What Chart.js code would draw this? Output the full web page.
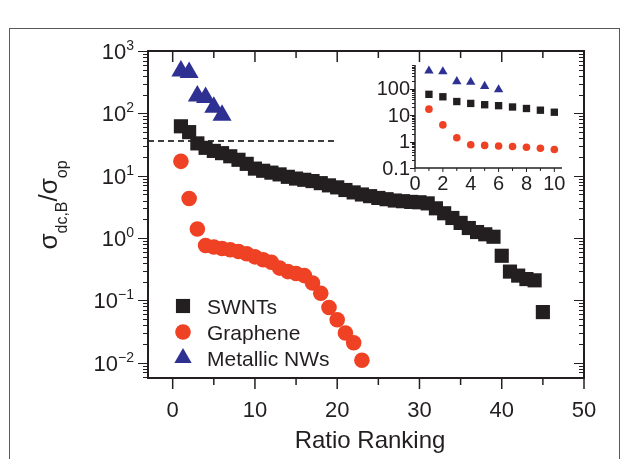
<!DOCTYPE html>
<html>
<head>
<meta charset="utf-8">
<script src="https://cdn.jsdelivr.net/npm/chart.js@4.4.1/dist/chart.umd.min.js"></script>
<style>
  html, body { margin: 0; padding: 0; background: #fff; }
  #wrap { position: relative; width: 628px; height: 459px; }
  #wrap canvas { position: absolute; left: 0; top: 0; }
</style>
</head>
<body>
<div id="wrap">
  <canvas id="main" width="628" height="459"></canvas>
  <canvas id="inset" width="628" height="459"></canvas>
</div>
<script>
// ---- data ----
const swntRank = [1, 2, 3, 4, 5, 6, 7, 8, 9, 10, 11, 12, 13, 14, 15, 16, 17, 18, 19, 20, 21, 22, 23,
                  24, 25, 26, 27, 28, 29, 30, 31, 32, 33, 34, 35, 36, 37, 38, 39, 40, 41, 42, 43, 44, 45];
const swntRatio = [62, 50, 33, 28, 25, 23, 20.5, 18, 15.5, 13, 12, 11.2, 10.5, 9.6, 9.0, 8.6, 8.2, 7.6, 7.0, 6.5,
                   5.9, 5.4, 5.0, 4.7, 4.4, 4.2, 4.0, 3.9, 3.8, 3.75, 3.6, 3.0, 2.5, 2.1, 1.75, 1.45, 1.25, 1.15,
                   1.05, 0.52, 0.29, 0.25, 0.22, 0.21, 0.065];
const grapheneRank = [1, 2, 3, 4, 5, 6, 7, 8, 9, 10, 11, 12, 13, 14, 15, 16, 17, 18, 19, 20, 21, 22, 23];
const grapheneRatio = [17, 4.3, 1.4, 0.76, 0.72, 0.68, 0.65, 0.61, 0.56, 0.5, 0.45, 0.41, 0.33, 0.29, 0.27,
                       0.25, 0.19, 0.13, 0.077, 0.049, 0.03, 0.021, 0.011];
const nwRank = [1, 2, 3, 4, 5, 6];
const nwRatio = [480, 450, 190, 180, 125, 93];
const thresholdX = [-3, 20];
const thresholdY = [36, 36];

const seriesNames = ['SWNTs', 'Graphene', 'Metallic NWs'];
const xTickLabels = [0, 10, 20, 30, 40, 50];
const yTickExps = [-2, -1, 0, 1, 2, 3];
const insetXTickLabels = [0, 2, 4, 6, 8, 10];
const insetYTickLabels = [0.1, 1, 10, 100];

const INK = '#231f20';
const RED = '#ef4123';
const BLUE = '#2e3192';
const FONT = '"Liberation Sans", Arial, Helvetica, sans-serif';

const pts = (xs, ys) => xs.map((x, i) => ({ x: x, y: ys[i] }));

// log ticks 1..9 x 10^n inside [min, max]
function logTicks(min, max) {
    const out = [];
    for (let e = Math.floor(Math.log10(min)); e <= Math.ceil(Math.log10(max)); e++) {
        for (let m = 1; m <= 9; m++) {
            const v = m * Math.pow(10, e);
            if (v >= min * 0.999 && v <= max * 1.001) out.push({ v: v, major: m === 1 });
        }
    }
    return out;
}

function seg(ctx, x1, y1, x2, y2) {
    ctx.beginPath();
    ctx.moveTo(x1, y1);
    ctx.lineTo(x2, y2);
    ctx.stroke();
}

const styleOf = [
    { pointStyle: 'rect', color: INK },
    { pointStyle: 'circle', color: RED },
    { pointStyle: 'triangle', color: BLUE }
];

// ---- main plot: frame, ticks, labels, legend ----
const mainAxes = {
    id: 'mainAxes',
    afterDraw(chart) {
        const ctx = chart.ctx, a = chart.chartArea;
        const xs = chart.scales.x, ys = chart.scales.y;
        ctx.save();

        // figure border
        ctx.strokeStyle = '#58595b';
        ctx.lineWidth = 1;
        ctx.strokeRect(9.5, 28.5, 610, 460);

        // plot box
        ctx.strokeStyle = INK;
        ctx.lineWidth = 2;
        ctx.strokeRect(a.left, a.top, a.right - a.left, a.bottom - a.top);

        // y ticks: out on the left, in on the right
        ctx.lineWidth = 1;
        logTicks(ys.min, ys.max).forEach(t => {
            const y = Math.round(ys.getPixelForValue(t.v)) + 0.5;
            const len = t.major ? 10 : 5;
            seg(ctx, a.left - len, y, a.left, y);
            seg(ctx, a.right - len, y, a.right, y);
        });

        // x ticks: out at the bottom, in at the top
        ctx.lineWidth = 1.5;
        for (let v = 0; v <= 50; v += 5) {
            const x = xs.getPixelForValue(v);
            const len = v % 10 === 0 ? 11 : 7;
            seg(ctx, x, a.bottom, x, a.bottom + len);
            seg(ctx, x, a.top, x, a.top + len);
        }

        ctx.fillStyle = INK;
        // y labels 10^n
        yTickExps.forEach(e => {
            const y = ys.getPixelForValue(Math.pow(10, e));
            const sup = String(e).replace('-', '\u2212');
            ctx.font = '22px ' + FONT;
            const w1 = ctx.measureText('10').width;
            ctx.font = '14px ' + FONT;
            const w2 = ctx.measureText(sup).width;
            const x0 = a.left - 14 - w1 - w2;
            ctx.textAlign = 'left';
            ctx.textBaseline = 'alphabetic';
            ctx.font = '22px ' + FONT;
            ctx.fillText('10', x0, y + 8);
            ctx.font = '14px ' + FONT;
            ctx.fillText(sup, x0 + w1, y - 1);
        });

        // x labels
        ctx.font = '22px ' + FONT;
        ctx.textAlign = 'center';
        xTickLabels.forEach(v => {
            ctx.fillText(String(v), xs.getPixelForValue(v), 417);
        });

        // x title
        ctx.font = '24px ' + FONT;
        ctx.fillText('Ratio Ranking', (a.left + a.right) / 2 + 4, 448);

        // y title  sigma_{dc,B} / sigma_op
        ctx.translate(57, 205);
        ctx.rotate(-Math.PI / 2);
        const parts = [
            { t: '\u03c3', f: 26, dy: 0 },
            { t: 'dc,B', f: 16, dy: 10 },
            { t: '/', f: 26, dy: 0 },
            { t: '\u03c3', f: 26, dy: 0 },
            { t: 'op', f: 16, dy: 10 }
        ];
        let total = 0;
        parts.forEach(p => { ctx.font = p.f + 'px ' + FONT; p.w = ctx.measureText(p.t).width; total += p.w; });
        let cx = -total / 2;
        ctx.textAlign = 'left';
        parts.forEach(p => {
            ctx.font = p.f + 'px ' + FONT;
            ctx.fillText(p.t, cx, p.dy);
            cx += p.w;
        });
        ctx.setTransform(1, 0, 0, 1, 0, 0);

        // legend
        const rows = [306, 332, 358];
        const radii = [10, 7.8, 10];
        seriesNames.forEach((name, i) => {
            ctx.fillStyle = styleOf[i].color;
            ctx.strokeStyle = styleOf[i].color;
            Chart.helpers.drawPoint(ctx, { pointStyle: styleOf[i].pointStyle, radius: radii[i], rotation: 0, borderWidth: 0 }, 183, rows[i]);
            ctx.fillStyle = INK;
            ctx.font = '21px ' + FONT;
            ctx.textAlign = 'left';
            ctx.fillText(name, 207, rows[i] + 7.5);
        });
        ctx.restore();
    }
};

new Chart(document.getElementById('main'), {
    type: 'scatter',
    data: {
        datasets: [{
            label: seriesNames[0],
            data: pts(swntRank, swntRatio),
            pointStyle: 'rect',
            pointRadius: 10,
            pointBorderWidth: 0,
            backgroundColor: INK,
            borderColor: INK
        }, {
            label: seriesNames[1],
            data: pts(grapheneRank, grapheneRatio),
            pointStyle: 'circle',
            pointRadius: 7.8,
            pointBorderWidth: 0,
            backgroundColor: RED,
            borderColor: RED
        }, {
            label: seriesNames[2],
            data: pts(nwRank, nwRatio),
            pointStyle: 'triangle',
            pointRadius: 11,
            pointBorderWidth: 0,
            backgroundColor: BLUE,
            borderColor: BLUE
        }, {
            label: 'threshold',
            data: pts(thresholdX, thresholdY),
            showLine: true,
            pointRadius: 0,
            borderColor: '#000',
            borderWidth: 1.6,
            borderDash: [6, 4]
        }]
    },
    options: {
        responsive: false,
        animation: false,
        layout: { padding: { left: 148, top: 51, right: 44, bottom: 81 } },
        plugins: { legend: { display: false }, tooltip: { enabled: false } },
        scales: {
            x: { type: 'linear', min: -3, max: 50, display: false },
            y: { type: 'logarithmic', min: 0.0057, max: 1000, display: false }
        }
    },
    plugins: [mainAxes]
});

// ---- inset: first ten of each series ----
const insetAxes = {
    id: 'insetAxes',
    afterDraw(chart) {
        const ctx = chart.ctx, a = chart.chartArea;
        const xs = chart.scales.x, ys = chart.scales.y;
        ctx.save();
        ctx.strokeStyle = INK;
        ctx.lineWidth = 1.5;
        seg(ctx, a.left, a.top, a.left, a.bottom);
        seg(ctx, a.left, a.bottom, a.right, a.bottom);

        ctx.lineWidth = 1;
        logTicks(ys.min, ys.max).forEach(t => {
            const y = Math.round(ys.getPixelForValue(t.v)) + 0.5;
            seg(ctx, a.left - (t.major ? 5 : 3), y, a.left, y);
        });
        for (let v = 0; v <= 10; v++) {
            const x = xs.getPixelForValue(v);
            seg(ctx, x, a.bottom, x, a.bottom + (v % 2 === 0 ? 4 : 3));
        }

        ctx.fillStyle = INK;
        ctx.font = '20px ' + FONT;
        ctx.textAlign = 'right';
        ctx.textBaseline = 'middle';
        insetYTickLabels.forEach(v => {
            ctx.fillText(String(v), a.left - 5, ys.getPixelForValue(v) + 1);
        });
        ctx.textAlign = 'center';
        ctx.textBaseline = 'alphabetic';
        insetXTickLabels.forEach(v => {
            ctx.fillText(String(v), xs.getPixelForValue(v), a.bottom + 22);
        });
        ctx.restore();
    }
};

new Chart(document.getElementById('inset'), {
    type: 'scatter',
    data: {
        datasets: [{
            data: pts(swntRank.slice(0, 10), swntRatio.slice(0, 10)),
            pointStyle: 'rect',
            pointRadius: 5.2,
            pointBorderWidth: 0,
            backgroundColor: INK
        }, {
            data: pts(grapheneRank.slice(0, 10), grapheneRatio.slice(0, 10)),
            pointStyle: 'circle',
            pointRadius: 3.8,
            pointBorderWidth: 0,
            backgroundColor: RED
        }, {
            data: pts(nwRank, nwRatio),
            pointStyle: 'triangle',
            pointRadius: 5.4,
            pointBorderWidth: 0,
            backgroundColor: BLUE
        }]
    },
    options: {
        responsive: false,
        animation: false,
        layout: { padding: { left: 415, top: 65, right: 66, bottom: 291 } },
        plugins: { legend: { display: false }, tooltip: { enabled: false } },
        scales: {
            x: { type: 'linear', min: 0, max: 10.55, display: false },
            y: { type: 'logarithmic', min: 0.1, max: 800, display: false }
        }
    },
    plugins: [insetAxes]
});
</script>
</body>
</html>
